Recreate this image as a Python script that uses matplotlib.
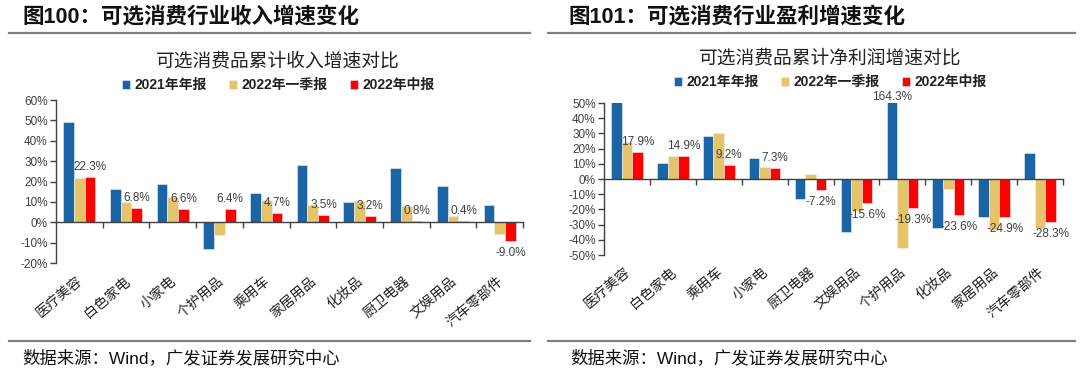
import numpy as np
import matplotlib
matplotlib.use('Agg')
import matplotlib.pyplot as plt
import matplotlib.transforms as mtransforms

plt.rcParams['font.family'] = ['Liberation Sans', 'Noto Sans CJK SC', 'DejaVu Sans']

# ---------------- data ----------------
series_names = ['2021年年报', '2022年一季报', '2022年中报']

cats_rev = ['医疗美容', '白色家电', '小家电', '个护用品', '乘用车',
            '家居用品', '化妆品', '厨卫电器', '文娱用品', '汽车零部件']
rev_2021 = [49.0, 16.2, 18.6, -13.0, 14.6, 28.1, 10.0, 26.4, 18.0, 8.3]
rev_2022q1 = [21.6, 10.1, 12.4, -6.1, 10.9, 8.5, 10.3, 8.2, 3.1, -5.7]
rev_2022h1 = [22.3, 6.8, 6.6, 6.4, 4.7, 3.5, 3.2, 0.8, 0.4, -9.0]

cats_np = ['医疗美容', '白色家电', '乘用车', '小家电', '厨卫电器',
           '文娱用品', '个护用品', '化妆品', '家居用品', '汽车零部件']
np_2021 = [50.6, 10.8, 28.6, 13.6, -13.4, -34.7, 164.3, -32.5, -24.8, 16.9]
np_2022q1 = [24.6, 15.2, 30.1, 8.1, 3.5, -20.9, -45.1, -6.6, -33.6, -32.1]
np_2022h1 = [17.9, 14.9, 9.2, 7.3, -7.2, -15.6, -19.3, -23.6, -24.9, -28.3]

colors = ['#1B65A6', '#E5C46A', '#FF0000']
txt_color = '#404040'

W, H = 1080, 378
fig = plt.figure(figsize=(W / 100, H / 100), dpi=100)


def fx(px):
    return px / W


def fy(py):
    return 1 - py / H


def draw_panel(rect, cats, vals, ylim, ystep, sub_title, sub_x, sub_y, leg_y, top_label=None):
    ax = fig.add_axes(rect)
    x = np.arange(len(cats))
    w = 0.23
    for i, v in enumerate(vals):
        ax.bar(x + (i - 1) * w, v, w, color=colors[i], label=series_names[i],
               edgecolor='#EAF1F8', linewidth=0.4)
    ax.set_xlim(-0.5, len(cats) - 0.5)
    ax.set_ylim(*ylim)
    yt = np.arange(ylim[0], ylim[1] + 0.1, ystep)
    ax.set_yticks(yt)
    ax.set_yticklabels([f'{int(t)}%' for t in yt], fontsize=8.5, color=txt_color)
    for s in ['top', 'right']:
        ax.spines[s].set_visible(False)
    ax.spines['left'].set_color('#404040')
    ax.spines['bottom'].set_color('#404040')
    ax.spines['bottom'].set_position(('data', 0))
    ax.spines['left'].set_linewidth(1.0)
    ax.spines['bottom'].set_linewidth(1.0)
    ax.tick_params(axis='y', length=4, width=1.0, color='#404040', pad=2)
    ax.set_xticks(np.arange(len(cats)) + 0.5)
    ax.set_xticklabels([])
    ax.tick_params(axis='x', length=4, width=1.0, color='#404040', direction='out')

    # category labels below the plot
    trans = mtransforms.blended_transform_factory(ax.transData, ax.transAxes)
    for xi, c in zip(x, cats):
        ax.text(xi + 0.04, -0.1, c, transform=trans, rotation=40, ha='right', va='center',
                rotation_mode='anchor', fontsize=10, color='#222222',
                family=['Noto Sans CJK SC'])

    # labels for the last series
    for xi, v in zip(x, vals[2]):
        if v >= 0:
            ax.annotate(f'{v:.1f}%', (xi + w, v), xytext=(0, 10), textcoords='offset pixels',
                        ha='center', va='center', fontsize=8.5, color=txt_color)
        else:
            ax.annotate(f'{v:.1f}%', (xi + w, v), xytext=(0, -12), textcoords='offset pixels',
                        ha='center', va='center', fontsize=8.5, color=txt_color)
    if top_label is not None:
        idx = top_label
        v = vals[0][idx]
        ax.annotate(f'{v:.1f}%', (idx - w, ylim[1]), xytext=(0, 6), textcoords='offset pixels',
                    ha='center', va='center', fontsize=8.5, color=txt_color,
                    annotation_clip=False)

    fig.text(fx(sub_x), fy(sub_y), sub_title, ha='center', va='center', fontsize=13.5,
             color='#222222', family=['Noto Sans CJK SC'])
    leg = fig.legend(*ax.get_legend_handles_labels(), loc='center',
                     bbox_to_anchor=(fx(sub_x), fy(leg_y)), ncol=3, frameon=False,
                     handlelength=0.6, handleheight=0.6, handletextpad=0.3,
                     columnspacing=1.6, borderpad=0,
                     prop={'weight': 'bold', 'size': 10})
    for t in leg.get_texts():
        t.set_color('#222222')
    return ax


# left panel
draw_panel([fx(56), fy(263), fx(523 - 56), (263 - 100) / H], cats_rev,
           [rev_2021, rev_2022q1, rev_2022h1], (-20, 60), 10,
           '可选消费品累计收入增速对比', 278, 61, 85)

# right panel
draw_panel([fx(604), fy(255), fx(1063 - 604), (255 - 103) / H], cats_np,
           [np_2021, np_2022q1, np_2022h1], (-50, 50), 10,
           '可选消费品累计净利润增速对比', 830, 58, 82, top_label=6)

# headers
fig.text(fx(22), fy(17), '图100：可选消费行业收入增速变化', ha='left', va='center',
         fontsize=15.5, weight='bold', color='#111111')
fig.text(fx(568), fy(17), '图101：可选消费行业盈利增速变化', ha='left', va='center',
         fontsize=15.5, weight='bold', color='#111111')

for x0, x1 in [(9, 530), (548, 1075)]:
    fig.add_artist(plt.Line2D([fx(x0), fx(x1)], [fy(33), fy(33)], color='#808080', lw=1.6))
    fig.add_artist(plt.Line2D([fx(x0), fx(x1)], [fy(341), fy(341)], color='#808080', lw=1.6))

fig.text(fx(22), fy(358), '数据来源：Wind，广发证券发展研究中心', ha='left', va='center',
         fontsize=12.5, color='#111111')
fig.text(fx(570), fy(358), '数据来源：Wind，广发证券发展研究中心', ha='left', va='center',
         fontsize=12.5, color='#111111')

fig.savefig('out.png', dpi=100)
